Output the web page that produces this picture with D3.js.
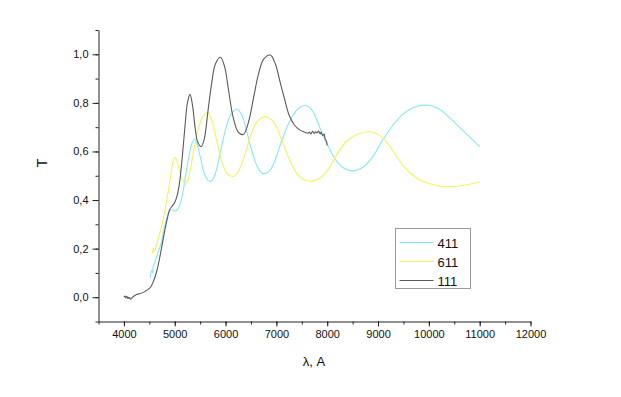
<!DOCTYPE html>
<html>
<head>
<meta charset="utf-8">
<script src="https://cdn.jsdelivr.net/npm/d3@7"></script>
<style>
  body { margin: 0; background: #fff; }
  svg text { font-family: Arial, "Liberation Sans", sans-serif; fill: #111; }
  .axis path, .axis line { stroke: #222; }
</style>
</head>
<body>
<div id="chart"></div>
<script>
// wavelength (A) / transmission pairs
const s411 = [
  [4520,0.08],[4540,0.11],[4560,0.10],[4580,0.13],[4620,0.15],[4680,0.19],[4730,0.22],
  [4790,0.28],[4850,0.33],[4900,0.355],[4950,0.36],[5000,0.355],[5050,0.36],[5100,0.38],
  [5160,0.43],[5220,0.51],[5280,0.58],[5340,0.635],[5390,0.65],[5440,0.63],[5500,0.58],
  [5580,0.51],[5660,0.48],[5720,0.478],[5800,0.51],[5900,0.60],[6000,0.69],[6100,0.75],
  [6220,0.775],[6320,0.75],[6420,0.68],[6520,0.60],[6620,0.54],[6720,0.51],[6800,0.51],
  [6900,0.53],[7000,0.58],[7150,0.67],[7300,0.74],[7450,0.78],[7570,0.79],[7700,0.77],
  [7850,0.70],[8000,0.63],[8150,0.57],[8300,0.535],[8500,0.52],[8700,0.535],[8900,0.58],
  [9100,0.65],[9300,0.71],[9500,0.755],[9750,0.785],[10000,0.79],[10200,0.775],
  [10400,0.74],[10600,0.70],[10800,0.66],[11000,0.62]
];
const s611 = [
  [4560,0.18],[4580,0.20],[4600,0.19],[4650,0.22],[4700,0.26],[4750,0.30],[4800,0.35],
  [4860,0.42],[4920,0.50],[4970,0.56],[5010,0.575],[5060,0.55],[5120,0.50],[5180,0.475],
  [5240,0.475],[5300,0.52],[5380,0.61],[5460,0.69],[5560,0.745],[5650,0.76],[5740,0.72],
  [5840,0.63],[5940,0.55],[6050,0.505],[6170,0.498],[6280,0.53],[6400,0.60],[6520,0.68],
  [6650,0.73],[6800,0.743],[6950,0.72],[7100,0.65],[7250,0.57],[7400,0.51],[7550,0.482],
  [7700,0.478],[7850,0.49],[8000,0.52],[8200,0.59],[8400,0.645],[8650,0.675],[8880,0.68],
  [9100,0.655],[9300,0.60],[9500,0.54],[9700,0.50],[9900,0.475],[10150,0.46],[10400,0.455],
  [10600,0.458],[10800,0.465],[11000,0.475]
];
const s111 = [
  [4000,0.0],[4020,0.005],[4040,-0.003],[4060,0.004],[4080,-0.006],[4100,0.0],[4130,-0.008],
  [4160,-0.002],[4200,0.005],[4260,0.012],[4320,0.015],[4400,0.022],[4460,0.03],[4520,0.04],
  [4580,0.065],[4650,0.11],[4720,0.18],[4790,0.26],[4850,0.32],[4900,0.36],[4950,0.375],
  [5000,0.39],[5050,0.42],[5100,0.48],[5150,0.58],[5200,0.70],[5250,0.80],[5300,0.835],
  [5350,0.79],[5400,0.70],[5450,0.64],[5520,0.62],[5580,0.65],[5650,0.76],[5720,0.87],
  [5800,0.96],[5900,0.988],[5980,0.95],[6060,0.85],[6150,0.74],[6250,0.68],[6350,0.67],
  [6450,0.72],[6550,0.82],[6650,0.92],[6750,0.98],[6880,0.997],[6980,0.96],[7080,0.88],
  [7150,0.825],[7250,0.75],[7350,0.71],[7450,0.69],[7550,0.68],[7620,0.675],[7650,0.68],
  [7680,0.672],[7710,0.683],[7740,0.674],[7770,0.681],[7800,0.676],[7830,0.684],[7860,0.672],
  [7880,0.68],[7910,0.665],[7940,0.672],[7960,0.65],[7980,0.645],[8000,0.625]
];

const seriesNames = ["411", "611", "111"];
const seriesColors = ["#86e9f0", "#f4f45a", "#5a5a5a"];
const xTicks = [4000, 5000, 6000, 7000, 8000, 9000, 10000, 11000, 12000];
const yTicks = [0, 0.2, 0.4, 0.6, 0.8, 1.0];

const W = 621, H = 397;
const plotLeft = 98.5, plotRight = 530.5, plotTop = 30, plotBottom = 321.5;

const svg = d3.select("#chart").append("svg")
  .attr("width", W).attr("height", H);

const x = d3.scaleLinear().domain([3500, 12000]).range([plotLeft, plotRight]);
const y = d3.scaleLinear().domain([-0.1, 1.1]).range([plotBottom, plotTop]);

const fmt = d => d3.format(".1f")(d).replace(".", ",");

// minor ticks first
svg.append("g").attr("class", "axis")
  .attr("transform", "translate(0," + plotBottom + ")")
  .call(d3.axisBottom(x).tickValues(d3.range(3500, 12001, 500)).tickSize(3).tickFormat(""))
  .select(".domain").remove();
svg.append("g").attr("class", "axis")
  .attr("transform", "translate(" + plotLeft + ",0)")
  .call(d3.axisLeft(y).tickValues(d3.range(-0.1, 1.101, 0.1)).tickSize(3).tickFormat(""))
  .select(".domain").remove();

// major axes
const xa = svg.append("g").attr("class", "axis")
  .attr("transform", "translate(0," + plotBottom + ")")
  .call(d3.axisBottom(x).tickValues(xTicks).tickSize(5).tickSizeOuter(0)
        .tickFormat(d3.format("d")).tickPadding(4));
xa.selectAll("text").style("font-size", "11px");

const ya = svg.append("g").attr("class", "axis")
  .attr("transform", "translate(" + plotLeft + ",0)")
  .call(d3.axisLeft(y).tickValues(yTicks).tickSize(6).tickSizeOuter(0).tickFormat(fmt).tickPadding(4));
ya.selectAll("text").style("font-size", "11px");

// axis titles
svg.append("text")
  .attr("transform", "translate(47,163) rotate(-90)")
  .attr("text-anchor", "middle")
  .style("font-size", "14px")
  .text("T");
svg.append("text")
  .attr("x", 314).attr("y", 366)
  .attr("text-anchor", "middle")
  .style("font-size", "13px")
  .text("λ, A");

const line = d3.line()
  .x(d => x(d[0]))
  .y(d => y(d[1]))
  .curve(d3.curveCatmullRom.alpha(0.5));

[s411, s611, s111].forEach((s, i) => {
  svg.append("path")
    .datum(s)
    .attr("fill", "none")
    .attr("stroke", seriesColors[i])
    .attr("stroke-width", 1.1)
    .attr("d", line);
});

// legend
const lg = svg.append("g").attr("transform", "translate(395.5,228.5)");
lg.append("rect")
  .attr("width", 75).attr("height", 60)
  .attr("fill", "#fff").attr("stroke", "#999");
seriesNames.forEach((n, i) => {
  const yy = 14 + i * 19;
  lg.append("line")
    .attr("x1", 4).attr("x2", 38).attr("y1", yy).attr("y2", yy)
    .attr("stroke", seriesColors[i]).attr("stroke-width", 1);
  lg.append("text")
    .attr("x", 42).attr("y", yy + 5)
    .style("font-size", "13px")
    .text(n);
});
</script>
</body>
</html>
